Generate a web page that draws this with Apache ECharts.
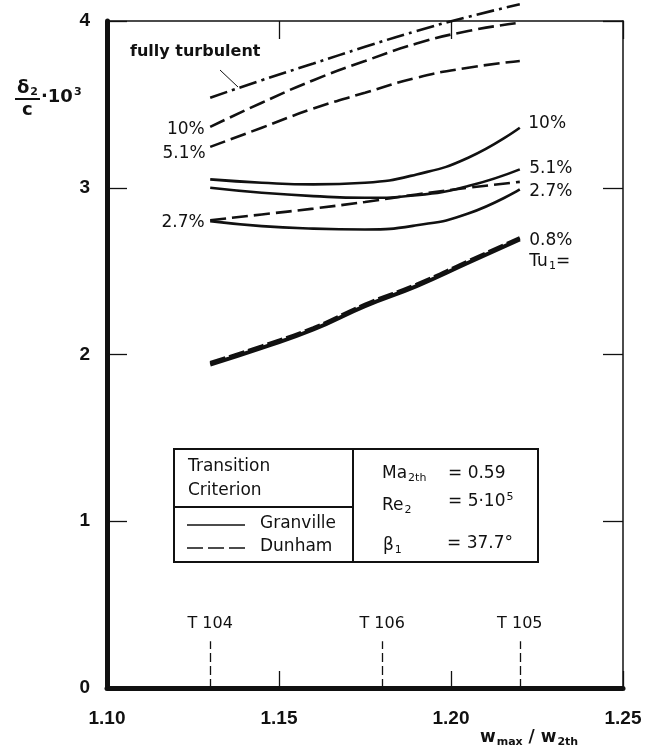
<!DOCTYPE html>
<html>
<head>
<meta charset="utf-8">
<script src="https://cdn.jsdelivr.net/npm/echarts/dist/echarts.min.js"></script>
<style>
  html, body { margin: 0; padding: 0; background: #fff; }
  #chart { width: 653px; height: 752px; }
</style>
</head>
<body>
<div id="chart"></div>
<script>
// Momentum thickness δ2/c·10³ versus velocity ratio w_max/w_2th
// for several inlet turbulence levels Tu1, two transition criteria.

const xRange = [1.10, 1.25];
const xStep = 0.05;
const yRange = [0, 4];
const yStep = 1;

// abscissa stations shared by all curves
const ratio = [1.13, 1.145, 1.16, 1.175, 1.19, 1.205, 1.22];

// δ2/c·10³ at each station
const fullyTurbulent = [3.54, 3.645, 3.745, 3.845, 3.94, 4.025, 4.10];

const dunham10 = [3.365, 3.51, 3.645, 3.76, 3.865, 3.94, 3.99];
const dunham51 = [3.245, 3.36, 3.475, 3.57, 3.66, 3.72, 3.76];
const dunham27 = [2.805, 2.84, 2.875, 2.915, 2.96, 3.00, 3.035];
const dunham08 = [1.95, 2.05, 2.16, 2.30, 2.42, 2.56, 2.70];

const granville10 = [3.05, 3.03, 3.02, 3.03, 3.08, 3.18, 3.36];
const granville51 = [3.00, 2.97, 2.95, 2.94, 2.955, 3.01, 3.11];
const granville27 = [2.80, 2.77, 2.755, 2.75, 2.775, 2.845, 2.99];
const granville08 = [1.94, 2.04, 2.15, 2.29, 2.41, 2.55, 2.69];

// Cascade test cases marked along the abscissa
const cascadeX = [1.13, 1.18, 1.22];
const cascadeNames = ['T 104', 'T 106', 'T 105'];
const cascadeMarkTop = 0.28;

const INK = '#111111';
const FONT = '"DejaVu Sans", "Liberation Sans", sans-serif';
const TICK_FONT = '"Liberation Sans", Arial, sans-serif';

const subRich = {
  s: { fontSize: 11, padding: [9, 0, 0, 1], fontFamily: FONT, color: INK },
  sb: { fontSize: 11, fontWeight: 'bold', padding: [9, 0, 0, 1], fontFamily: FONT, color: INK },
  sup: { fontSize: 11, fontWeight: 'bold', padding: [0, 0, 9, 1], fontFamily: FONT, color: INK },
  supn: { fontSize: 11, padding: [0, 0, 9, 1], fontFamily: FONT, color: INK }
};

const pairs = ys => ratio.map((x, i) => [x, ys[i]]);
const first = ys => [ratio[0], ys[0]];
const last = ys => [ratio[ratio.length - 1], ys[ys.length - 1]];

function tag(pt, text, side, dx, dy) {
  return { coord: pt, name: text, label: { position: side, offset: [dx, dy] } };
}

function curve(name, ys, opts) {
  const s = {
    name: name,
    type: 'line',
    data: pairs(ys),
    smooth: 0.5,
    showSymbol: false,
    symbol: 'none',
    clip: opts.clip !== false,
    silent: true,
    z: opts.z || 3,
    lineStyle: { color: INK, width: opts.width || 2.6, type: opts.dash || 'solid', cap: 'butt' }
  };
  if (opts.tags) {
    s.markPoint = {
      symbol: 'circle',
      symbolSize: 1,
      silent: true,
      itemStyle: { color: 'rgba(0,0,0,0)' },
      label: {
        show: true,
        distance: 5,
        formatter: p => p.name,
        fontFamily: FONT,
        fontSize: 17,
        color: INK,
        rich: {
          s: { fontSize: 11, padding: [9, 0, 0, 1], fontFamily: FONT, color: INK },
          t: { fontSize: 17, fontFamily: FONT, color: INK }
        }
      },
      data: opts.tags
    };
  }
  return s;
}

const chart = echarts.init(document.getElementById('chart'), null, { renderer: 'canvas' });

const series = [
  curve('fully turbulent', fullyTurbulent, { dash: [18, 5, 3, 5], clip: false }),
  curve('Dunham 10%', dunham10, { dash: [16, 6], tags: [tag(first(dunham10), '10%', 'left', 0, 3)] }),
  curve('Dunham 5.1%', dunham51, { dash: [16, 6], tags: [tag(first(dunham51), '5.1%', 'left', 1, 7)] }),
  curve('Dunham 2.7%', dunham27, { dash: [16, 6], tags: [tag(first(dunham27), '2.7%', 'left', 0, 2)] }),
  curve('Dunham 0.8%', dunham08, { dash: [16, 4], width: 3.6 }),
  curve('Granville 10%', granville10, { tags: [tag(last(granville10), '10%', 'right', 3, -4)] }),
  curve('Granville 5.1%', granville51, { tags: [tag(last(granville51), '5.1%', 'right', 4, -1)] }),
  curve('Granville 2.7%', granville27, { tags: [tag(last(granville27), '2.7%', 'right', 4, 2)] }),
  curve('Granville 0.8%', granville08, {
    width: 4,
    tags: [{
      coord: last(granville08),
      name: '0.8%\n{t|Tu}{s|1}{t|=}',
      label: { position: 'right', offset: [4, 12], lineHeight: 21 }
    }]
  }),
  {
    name: 'cascades',
    type: 'line',
    data: [],
    silent: true,
    markLine: {
      silent: true,
      symbol: ['none', 'none'],
      lineStyle: { color: INK, width: 1.3, type: [9, 4] },
      label: {
        show: true,
        position: 'end',
        distance: 9,
        formatter: p => p.name,
        fontFamily: FONT,
        fontSize: 16,
        color: INK
      },
      data: cascadeX.map((x, i) => [
        { coord: [x, 0], name: cascadeNames[i] },
        { coord: [x, cascadeMarkTop] }
      ])
    }
  }
];

const graphics = [
  // ordinate title: δ2 / c · 10³
  { type: 'text', left: 17, top: 79, style: { text: 'δ{sb|2}', font: 'bold 18px ' + FONT, fill: INK, rich: subRich } },
  { type: 'line', shape: { x1: 15, y1: 99, x2: 40, y2: 99 }, style: { stroke: INK, lineWidth: 2 } },
  { type: 'text', left: 22, top: 101, style: { text: 'c', font: 'bold 18px ' + FONT, fill: INK } },
  { type: 'text', left: 41, top: 87, style: { text: '·10{sup|3}', font: 'bold 18px ' + FONT, fill: INK, rich: subRich } },

  // abscissa title: w_max / w_2th
  { type: 'text', left: 480, top: 729, style: { text: 'w{sb|max} / w{sb|2th}', font: 'bold 17px ' + FONT, fill: INK, rich: subRich } },

  // fully turbulent annotation with leader
  { type: 'text', left: 130, top: 44, style: { text: 'fully turbulent', font: 'bold 16px ' + FONT, fill: INK } },
  { type: 'line', shape: { x1: 220, y1: 70, x2: 238, y2: 87 }, style: { stroke: INK, lineWidth: 1 } },

  // key box
  { type: 'rect', shape: { x: 174, y: 449, width: 364, height: 113 }, style: { fill: '#fff', stroke: INK, lineWidth: 2 }, z: 10 },
  { type: 'line', shape: { x1: 353, y1: 449, x2: 353, y2: 562 }, style: { stroke: INK, lineWidth: 2 }, z: 11 },
  { type: 'line', shape: { x1: 174, y1: 507, x2: 353, y2: 507 }, style: { stroke: INK, lineWidth: 2 }, z: 11 },
  { type: 'text', left: 188, top: 458, z: 11, style: { text: 'Transition', font: '17px ' + FONT, fill: INK } },
  { type: 'text', left: 188, top: 482, z: 11, style: { text: 'Criterion', font: '17px ' + FONT, fill: INK } },
  { type: 'line', shape: { x1: 187, y1: 525, x2: 245, y2: 525 }, style: { stroke: INK, lineWidth: 1.5 }, z: 11 },
  { type: 'text', left: 260, top: 515, z: 11, style: { text: 'Granville', font: '17px ' + FONT, fill: INK } },
  { type: 'line', shape: { x1: 187, y1: 548, x2: 245, y2: 548 }, style: { stroke: INK, lineWidth: 1.5, lineDash: [16, 5] }, z: 11 },
  { type: 'text', left: 260, top: 538, z: 11, style: { text: 'Dunham', font: '17px ' + FONT, fill: INK } },
  { type: 'text', left: 382, top: 465, z: 11, style: { text: 'Ma{s|2th}', font: '17px ' + FONT, fill: INK, rich: subRich } },
  { type: 'text', left: 448, top: 465, z: 11, style: { text: '= 0.59', font: '17px ' + FONT, fill: INK } },
  { type: 'text', left: 382, top: 497, z: 11, style: { text: 'Re{s|2}', font: '17px ' + FONT, fill: INK, rich: subRich } },
  { type: 'text', left: 448, top: 492, z: 11, style: { text: '= 5·10{supn|5}', font: '17px ' + FONT, fill: INK, rich: subRich } },
  { type: 'text', left: 383, top: 537, z: 11, style: { text: 'β{s|1}', font: '17px ' + FONT, fill: INK, rich: subRich } },
  { type: 'text', left: 447, top: 535, z: 11, style: { text: '= 37.7°', font: '17px ' + FONT, fill: INK } }
];

const tickLabel = {
  fontFamily: TICK_FONT,
  fontWeight: 'bold',
  fontSize: 19,
  color: INK
};

chart.setOption({
  animation: false,
  backgroundColor: '#ffffff',
  grid: { left: 107, right: 30, top: 21, bottom: 64, containLabel: false },
  xAxis: [
    {
      type: 'value', position: 'bottom', min: xRange[0], max: xRange[1], interval: xStep,
      axisLine: { show: true, onZero: false, lineStyle: { color: INK, width: 5 } },
      axisTick: { show: true, inside: true, length: 17, lineStyle: { color: INK, width: 1.3 } },
      axisLabel: Object.assign({ margin: 21, formatter: v => v.toFixed(2) }, tickLabel),
      splitLine: { show: false }
    },
    {
      type: 'value', position: 'top', min: xRange[0], max: xRange[1], interval: xStep,
      axisLine: { show: true, onZero: false, lineStyle: { color: INK, width: 1.5 } },
      axisTick: { show: true, inside: true, length: 18, lineStyle: { color: INK, width: 1.3 } },
      axisLabel: { show: false },
      splitLine: { show: false }
    }
  ],
  yAxis: [
    {
      type: 'value', position: 'left', min: yRange[0], max: yRange[1], interval: yStep,
      axisLine: { show: true, onZero: false, lineStyle: { color: INK, width: 5 } },
      axisTick: { show: true, inside: true, length: 20, lineStyle: { color: INK, width: 1.3 } },
      axisLabel: Object.assign({ margin: 17 }, tickLabel),
      splitLine: { show: false }
    },
    {
      type: 'value', position: 'right', min: yRange[0], max: yRange[1], interval: yStep,
      axisLine: { show: true, onZero: false, lineStyle: { color: INK, width: 1.5 } },
      axisTick: { show: true, inside: true, length: 20, lineStyle: { color: INK, width: 1.3 } },
      axisLabel: { show: false },
      splitLine: { show: false }
    }
  ],
  series: series,
  graphic: graphics
});
</script>
</body>
</html>
